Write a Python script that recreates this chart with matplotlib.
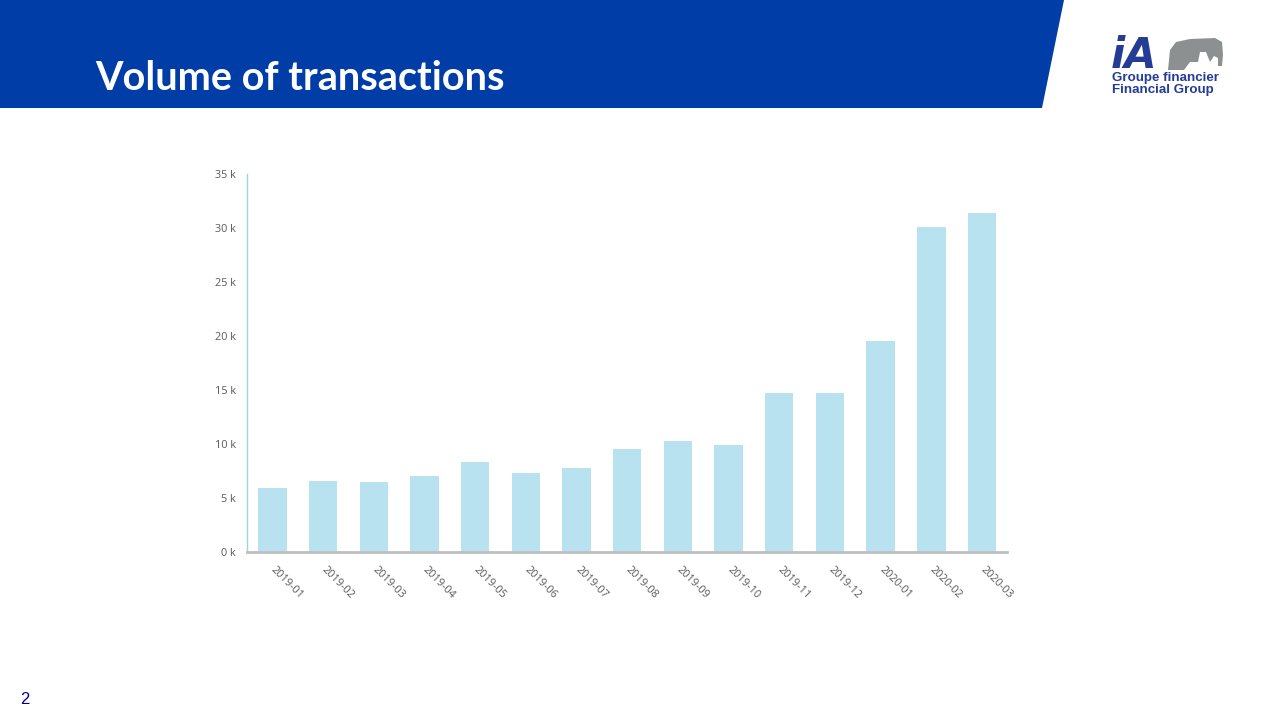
import matplotlib.pyplot as plt
import matplotlib.patches as patches
import matplotlib.transforms as mtransforms
from matplotlib.ticker import FuncFormatter

# Данные
months = ['2019-01', '2019-02', '2019-03', '2019-04', '2019-05', '2019-06', '2019-07',
          '2019-08', '2019-09', '2019-10', '2019-11', '2019-12', '2020-01', '2020-02', '2020-03']
transactions = [5900, 6550, 6450, 7050, 8350, 7300, 7800,
                9550, 10300, 9900, 14750, 14750, 19550, 30050, 31350]

BANNER_BLUE = '#003DA6'
BAR_COLOR = '#B8E2F0'
TEXT_GRAY = '#595959'

fig = plt.figure(figsize=(12.8, 7.2), dpi=100)
fig.patch.set_facecolor('white')

# Синий баннер сверху (координаты в пикселях через фон-ось)
bg = fig.add_axes([0, 0, 1, 1])
bg.set_xlim(0, 1280)
bg.set_ylim(720, 0)
bg.axis('off')
bg.add_patch(patches.Polygon([(0, 0), (1064, 0), (1042, 108), (0, 108)],
                             closed=True, color=BANNER_BLUE, lw=0))
bg.text(95, 79, 'Volume of transactions', color='white', fontsize=28.5,
        fontweight='bold', family='Lato', va='center', ha='left')

# Логотип
bg.text(1111, 68, 'iA', color='#243C96', fontsize=30, fontweight='heavy',
        style='italic', family='DejaVu Sans', va='baseline', ha='left')
elephant = [(1168, 70), (1170, 50), (1176, 42), (1190, 39), (1215, 38), (1222, 42),
            (1223, 55), (1222, 66), (1218, 66), (1218, 58), (1214, 56), (1210, 62),
            (1206, 52), (1200, 52), (1198, 62), (1190, 62), (1184, 70)]
bg.add_patch(patches.Polygon(elephant, closed=True, color='#8C9091', lw=0))
bg.text(1112, 78.5, 'Groupe financier', color='#243C96', fontsize=9.6,
        fontweight='bold', family='Liberation Sans', va='center', ha='left')
bg.text(1112, 89.5, 'Financial Group', color='#243C96', fontsize=9.6,
        fontweight='bold', family='Liberation Sans', va='center', ha='left')

# Номер страницы
bg.text(20, 699, '2', color='#000099', fontsize=12, family='Liberation Sans',
        va='center', ha='left')

# График
ax = fig.add_axes([0.193, 0.2333, 0.594, 0.525])
ax.bar(range(len(months)), transactions, width=0.56, color=BAR_COLOR, zorder=2)
ax.set_xlim(-0.5, len(months) - 0.5)
ax.set_ylim(0, 35000)
ax.set_yticks(range(0, 35001, 5000))
ax.yaxis.set_major_formatter(FuncFormatter(lambda v, p: f'{int(v / 1000)} k'))
ax.set_xticks(range(len(months)))
ax.set_xticklabels(months, rotation=-45, ha='left', va='top',
                   rotation_mode='anchor')

for spine in ['top', 'right']:
    ax.spines[spine].set_visible(False)
ax.spines['left'].set_color('#9FD3E3')
ax.spines['left'].set_linewidth(1.0)
ax.spines['bottom'].set_color('#BFBFBF')
ax.spines['bottom'].set_linewidth(2.0)

ax.tick_params(axis='both', length=0, labelsize=7.8, labelcolor=TEXT_GRAY)
ax.tick_params(axis='y', pad=8)
ax.tick_params(axis='x', pad=9)
for lbl in ax.get_xticklabels() + ax.get_yticklabels():
    lbl.set_family('Open Sans')
# сдвиг подписей оси X немного вправо
shift = mtransforms.ScaledTranslation(3 / 72, 0, fig.dpi_scale_trans)
for lbl in ax.get_xticklabels():
    lbl.set_transform(lbl.get_transform() + shift)

fig.savefig('out.png', dpi=100, facecolor='white')
